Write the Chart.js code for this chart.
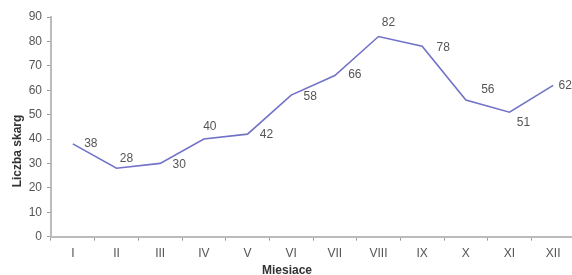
<!DOCTYPE html>
<html>
<head>
<meta charset="utf-8">
<script src="https://cdn.jsdelivr.net/npm/chart.js@4/dist/chart.umd.min.js"></script>
<style>
  html, body { margin: 0; padding: 0; background: #fff; overflow: hidden; }
  #wrap { width: 572px; height: 275px; overflow: hidden; }
</style>
</head>
<body>
<div id="wrap"><canvas id="chart" width="575" height="275"></canvas></div>
<script>
const months = ['I','II','III','IV','V','VI','VII','VIII','IX','X','XI','XII'];
const complaints = [38, 28, 30, 40, 42, 58, 66, 82, 78, 56, 51, 62];
const yTicks = [0, 10, 20, 30, 40, 50, 60, 70, 80, 90];

// vertical nudges for the value labels (they sit to the right of each point)
const labelDy = [0, -10, 1, -12, 1, 2, -1, -14, 1, -10, 11, 0];
const labelDx = [18, 10, 19, 6, 19, 19, 20, 10, 21, 22, 14, 12];

const textFont = 'Liberation Sans, Arial, sans-serif';

const valueLabels = {
  id: 'valueLabels',
  afterDatasetsDraw(chart) {
    const ctx = chart.ctx;
    const meta = chart.getDatasetMeta(0);
    ctx.save();
    ctx.font = '12px ' + textFont;
    ctx.fillStyle = '#555';
    ctx.textAlign = 'center';
    ctx.textBaseline = 'middle';
    meta.data.forEach((pt, i) => {
      ctx.fillText(String(complaints[i]), pt.x + labelDx[i], pt.y + labelDy[i]);
    });
    ctx.restore();
  }
};

const axisTitles = {
  id: 'axisTitles',
  afterDraw(chart) {
    const ctx = chart.ctx;
    ctx.save();
    ctx.font = 'bold 12px ' + textFont;
    ctx.fillStyle = '#333';
    ctx.textAlign = 'center';
    ctx.textBaseline = 'middle';
    ctx.fillText('Miesiace', 287, 271);
    ctx.translate(18, 151);
    ctx.rotate(-Math.PI / 2);
    ctx.fillText('Liczba skarg', 0, 0);
    ctx.restore();
  }
};

new Chart(document.getElementById('chart'), {
  type: 'line',
  data: {
    labels: months,
    datasets: [{
      data: complaints,
      borderColor: '#7272c8',
      borderWidth: 1.6,
      pointRadius: 0,
      tension: 0,
      fill: false
    }]
  },
  options: {
    responsive: false,
    animation: false,
    layout: { padding: { left: 10, right: 0, top: 17, bottom: 8 } },
    plugins: { legend: { display: false }, tooltip: { enabled: false } },
    scales: {
      x: {
        offset: true,
        grid: { offset: true, drawOnChartArea: false, tickLength: 4, color: '#999' },
        border: { color: '#bbb', width: 2 },
        ticks: { color: '#555', font: { family: textFont, size: 12 }, padding: 6, maxRotation: 0 }
      },
      y: {
        min: 0,
        max: 90,
        afterFit(s) { s.width = 41; },
        afterBuildTicks(s) { s.ticks = yTicks.map(v => ({ value: v })); },
        grid: { drawOnChartArea: false, tickLength: 4, color: '#999' },
        border: { color: '#bbb', width: 2 },
        ticks: { color: '#555', font: { family: textFont, size: 12 }, padding: 5 }
      }
    }
  },
  plugins: [valueLabels, axisTitles]
});
</script>
</body>
</html>
